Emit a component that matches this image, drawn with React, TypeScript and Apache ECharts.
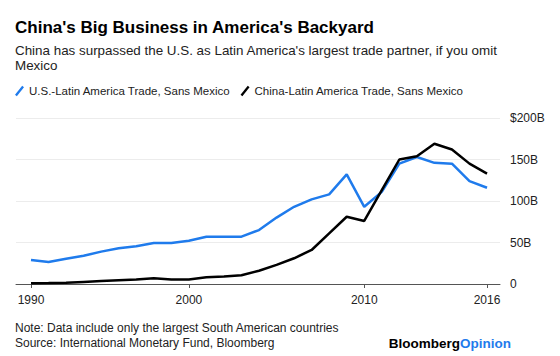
import React, { useEffect, useRef } from "react";
import * as echarts from "echarts";

const years: number[] = [
  1990, 1991, 1992, 1993, 1994, 1995, 1996, 1997, 1998, 1999,
  2000, 2001, 2002, 2003, 2004, 2005, 2006, 2007, 2008, 2009,
  2010, 2011, 2012, 2013, 2014, 2015, 2016,
];
// billions of US dollars
const usTrade: number[] = [
  29, 26.5, 30.5, 34, 39, 43, 45.5, 49.5, 49.5, 52,
  57, 57, 57, 65, 80, 93, 102, 108, 132, 93,
  111, 145, 153, 146, 145, 124, 116,
];
const chinaTrade: number[] = [
  1, 1.2, 1.5, 2.5, 3.5, 4.5, 5.5, 7, 5.5, 5.5,
  8, 9, 10.5, 16, 23, 31, 41, 61, 81, 76,
  113, 150, 154, 169, 162, 145, 133,
];
const xTickYears: number[] = [1990, 2000, 2010, 2016];
const yTickValues: number[] = [0, 50, 100, 150, 200];
const seriesNames: string[] = [
  "U.S.-Latin America Trade, Sans Mexico",
  "China-Latin America Trade, Sans Mexico",
];

const BLUE = "#1f7bec";
// each yearly value is plotted at the end of its year
const pointX = (y: number) => y + 364 / 365;

export default function App() {
  const ref = useRef<HTMLDivElement>(null);
  useEffect(() => {
    document.body.style.margin = "0";
    if (!ref.current) return;
    const chart = echarts.init(ref.current, undefined, { renderer: "svg" });
    const first = years[0];
    const last = years[years.length - 1];
    const tickXs = xTickYears.map((y) =>
      y === first || y === last ? pointX(y) : y
    );
    const font = "'Liberation Sans', Arial, Helvetica, sans-serif";
    chart.setOption({
      animation: false,
      textStyle: { fontFamily: font },
      grid: { left: 16, right: 60, top: 118, bottom: 72 },
      legend: {
        left: 15,
        top: 85,
        padding: 0,
        itemWidth: 9,
        itemHeight: 11,
        itemGap: 10,
        icon: "path://M0,10 L8,0 L10,1.4 L2,11.4 Z",
        textStyle: { fontSize: 11.5, color: "#222", fontFamily: font },
        data: seriesNames,
      },
      xAxis: {
        type: "value",
        min: pointX(first) - 0.855,
        max: pointX(last) + 0.74,
        splitLine: { show: false },
        axisLine: { lineStyle: { color: "#555", width: 1 } },
        axisTick: {
          show: true,
          length: 4,
          customValues: tickXs,
          lineStyle: { color: "#555" },
        },
        axisLabel: {
          customValues: tickXs,
          margin: 10,
          fontSize: 12,
          color: "#222",
          fontFamily: font,
          formatter: (v: number) => String(Math.floor(v + 1e-6)),
        },
      },
      yAxis: {
        type: "value",
        position: "right",
        min: 0,
        max: 200,
        interval: 50,
        axisLine: { show: false },
        axisTick: { show: false },
        splitLine: { lineStyle: { color: "#ececec", width: 1 } },
        axisLabel: {
          margin: 10,
          fontSize: 12,
          color: "#222",
          fontFamily: font,
          formatter: (v: number) =>
            v === 0 ? "0" : v === yTickValues[yTickValues.length - 1] ? `$${v}B` : `${v}B`,
        },
      },
      series: [
        {
          name: seriesNames[0],
          type: "line",
          symbol: "none",
          color: BLUE,
          lineStyle: { width: 2.5, color: BLUE },
          data: years.map((y, i) => [pointX(y), usTrade[i]]),
        },
        {
          name: seriesNames[1],
          type: "line",
          symbol: "none",
          color: "#000",
          lineStyle: { width: 2.5, color: "#000" },
          data: years.map((y, i) => [pointX(y), chinaTrade[i]]),
        },
      ],
      graphic: [
        {
          type: "text",
          left: 15,
          top: 19,
          style: {
            text: "China's Big Business in America's Backyard",
            fontSize: 17,
            fontWeight: "bold",
            fill: "#000",
            fontFamily: font,
          },
        },
        {
          type: "text",
          left: 15,
          top: 43,
          style: {
            text:
              "China has surpassed the U.S. as Latin America's largest trade partner, if you omit\nMexico",
            fontSize: 13.4,
            lineHeight: 15,
            fill: "#222",
            fontFamily: font,
          },
        },
        {
          type: "text",
          left: 15,
          top: 320,
          style: {
            text:
              "Note: Data include only the largest South American countries\nSource: International Monetary Fund, Bloomberg",
            fontSize: 12,
            lineHeight: 15.5,
            fill: "#222",
            fontFamily: font,
          },
        },
        {
          type: "text",
          right: 49,
          top: 336,
          style: {
            text: "{a|Bloomberg}{b|Opinion}",
            fontFamily: font,
            rich: {
              a: { fontSize: 13.5, fontWeight: "bold", fill: "#000", fontFamily: font },
              b: { fontSize: 13.5, fontWeight: "bold", fill: BLUE, fontFamily: font },
            },
          },
        },
      ],
    });
    return () => chart.dispose();
  }, []);
  return <div ref={ref} style={{ width: 560, height: 356 }} />;
}
